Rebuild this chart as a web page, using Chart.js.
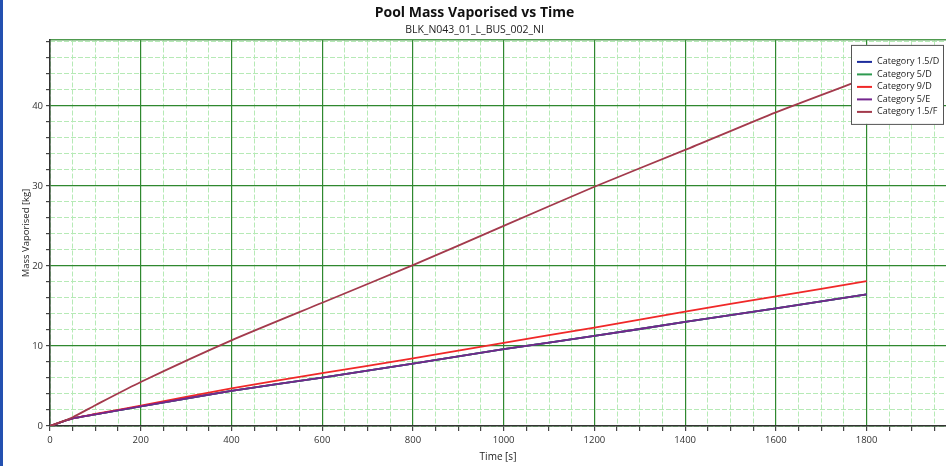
<!DOCTYPE html>
<html>
<head>
<meta charset="utf-8">
<script src="https://cdn.jsdelivr.net/npm/chart.js@4.4.1/dist/chart.umd.min.js"></script>
<style>
  html, body { margin: 0; padding: 0; background: #fff; }
  #wrap { width: 943px; height: 466px; border-left: 3px solid #2350b0; position: relative; }
</style>
</head>
<body>
<div id="wrap"><canvas id="poolChart"></canvas></div>
<script>
// time axis [s]
const times = [0, 50, 100, 200, 400, 600, 800, 1000, 1200, 1400, 1600, 1800];

// mass vaporised [kg] per weather category
const cat15D = [0, 0.95, 1.45, 2.45, 4.4, 6.05, 7.8, 9.6, 11.25, 13.0, 14.7, 16.45];
const cat5D  = [0, 0.95, 1.45, 2.45, 4.4, 6.05, 7.8, 9.6, 11.25, 13.0, 14.7, 16.45];
const cat9D  = [0, 0.95, 1.5, 2.55, 4.7, 6.6, 8.45, 10.4, 12.3, 14.3, 16.2, 18.1];
const cat5E  = [0, 0.95, 1.45, 2.45, 4.4, 6.05, 7.8, 9.6, 11.25, 13.0, 14.7, 16.45];
const cat15F = [0, 1.1, 2.6, 5.5, 10.7, 15.4, 20.1, 25.0, 29.9, 34.5, 39.2, 43.5];

const seriesNames = ['Category 1.5/D', 'Category 5/D', 'Category 9/D', 'Category 5/E', 'Category 1.5/F'];
const seriesColors = ['#1c2c9c', '#2e9a50', '#f02828', '#74268e', '#a33a4c'];

const FONT = "'Open Sans', 'Noto Sans', sans-serif";

function toPoints(vals) {
    return times.map((t, i) => ({ x: t, y: vals[i] }));
}

const allSeries = [cat15D, cat5D, cat9D, cat5E, cat15F];
const datasets = allSeries.map((vals, i) => ({
    label: seriesNames[i],
    data: toPoints(vals),
    borderColor: seriesColors[i],
    backgroundColor: seriesColors[i],
    borderWidth: 1.8,
    pointRadius: 0,
    tension: 0.2,
    fill: false,
    order: allSeries.length - i, // later series on top
    xAxisID: 'x',
    yAxisID: 'y',
}));

// legend box inside the plot, top right
const boxLegend = {
    id: 'boxLegend',
    afterDraw(chart) {
        const ctx = chart.ctx;
        const area = chart.chartArea;
        const w = 92, h = 79;
        const x = area.right - w - 3;
        const y = area.top + 5;
        ctx.save();
        ctx.fillStyle = '#fff';
        ctx.fillRect(x, y, w, h);
        ctx.strokeStyle = '#555';
        ctx.lineWidth = 1;
        ctx.strokeRect(x + 0.5, y + 0.5, w, h);
        ctx.font = '9px ' + FONT;
        ctx.textBaseline = 'middle';
        chart.data.datasets.forEach((ds, i) => {
            const ry = y + 17 + i * 12.5;
            ctx.strokeStyle = ds.borderColor;
            ctx.lineWidth = 2;
            ctx.beginPath();
            ctx.moveTo(x + 6, ry);
            ctx.lineTo(x + 21, ry);
            ctx.stroke();
            ctx.fillStyle = '#222';
            ctx.fillText(ds.label, x + 26, ry);
        });
        ctx.restore();
    }
};

const ctx = document.getElementById('poolChart').getContext('2d');
const chart = new Chart(ctx, {
    type: 'line',
    data: { datasets: datasets },
    options: {
        responsive: true,
        maintainAspectRatio: false,
        animation: false,
        layout: { padding: 0 },
        plugins: {
            legend: { display: false },
            tooltip: { enabled: false },
            title: {
                display: true,
                text: 'Pool Mass Vaporised vs Time',
                color: '#111',
                font: { family: FONT, size: 14, weight: 'bold' },
                padding: { top: 4.5, bottom: 0.5 },
            },
            subtitle: {
                display: true,
                text: 'BLK_N043_01_L_BUS_002_NI',
                color: '#222',
                font: { family: FONT, size: 10.5 },
                padding: { top: 2, bottom: 3.5 },
            },
        },
        scales: {
            // minor grids first so they sit under the major ones
            x2: {
                type: 'linear',
                position: 'top',
                min: 0,
                max: 1975,
                ticks: { display: false, stepSize: 50, includeBounds: false },
                grid: { color: '#b6eab6', lineWidth: 1, drawTicks: false, z: -1 },
                border: { display: true, color: '#4f9a4f', width: 1.5, dash: [5, 2] },
                afterFit(scale) { scale.height = 0; },
            },
            y2: {
                type: 'linear',
                position: 'right',
                min: 0,
                max: 48.25,
                ticks: { display: false, stepSize: 2, includeBounds: false },
                grid: { color: '#b6eab6', lineWidth: 1, drawTicks: false, z: -1 },
                border: { display: false, dash: [5, 2] },
                afterFit(scale) { scale.width = 0; },
            },
            x: {
                type: 'linear',
                position: 'bottom',
                min: 0,
                max: 1975,
                ticks: {
                    stepSize: 50,
                    includeBounds: false,
                    autoSkip: false,
                    maxRotation: 0,
                    padding: 4,
                    color: '#333',
                    font: { family: FONT, size: 9.5 },
                    callback: (v) => (v % 200 === 0 ? String(v) : ''),
                },
                grid: {
                    color: (c) => (c.tick && c.tick.value % 200 === 0 ? '#2f882f' : 'rgba(0,0,0,0)'),
                    lineWidth: 1.2,
                    tickColor: '#444',
                    tickLength: 5,
                },
                border: { display: true, color: '#333', width: 1.5 },
                title: {
                    display: true,
                    text: 'Time [s]',
                    color: '#222',
                    font: { family: FONT, size: 10 },
                    padding: { top: 0, bottom: 3 },
                },
                afterFit(scale) { scale.height = 40; },
            },
            y: {
                type: 'linear',
                position: 'left',
                min: 0,
                max: 48.25,
                ticks: {
                    stepSize: 2,
                    includeBounds: false,
                    autoSkip: false,
                    padding: 3,
                    color: '#333',
                    font: { family: FONT, size: 9.5 },
                    callback: (v) => (v % 10 === 0 ? String(v) : ''),
                },
                grid: {
                    color: (c) => (c.tick && c.tick.value % 10 === 0 ? '#2f882f' : 'rgba(0,0,0,0)'),
                    lineWidth: 1.2,
                    tickColor: '#444',
                    tickLength: 4,
                },
                border: { display: true, color: '#333', width: 1.5 },
                title: {
                    display: true,
                    text: 'Mass Vaporised [kg]',
                    color: '#222',
                    font: { family: FONT, size: 9.5 },
                    padding: { top: 18, bottom: 0 },
                },
                afterFit(scale) { scale.width = 47; },
            },
        },
    },
    plugins: [boxLegend],
});
</script>
</body>
</html>
